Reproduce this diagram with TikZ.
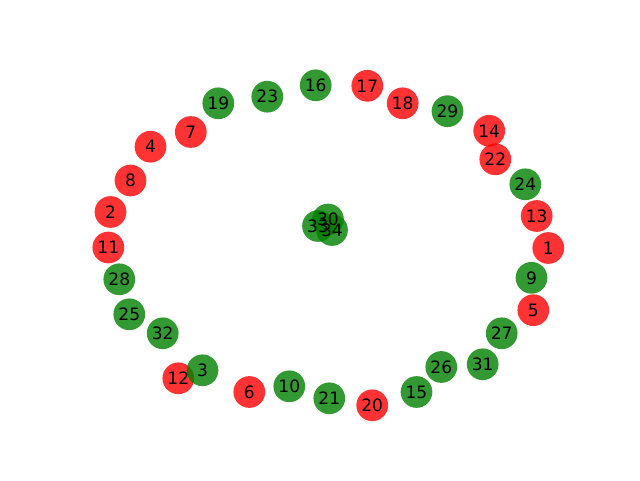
\documentclass[tikz,border=0pt]{standalone}
\usepackage{fontspec}
\setmainfont{DejaVu Sans}
\begin{document}
\begin{tikzpicture}[x=0.75pt,y=0.75pt,
  vtx/.style={circle,minimum size=23.8pt,inner sep=0pt,draw=none,fill opacity=0.8},
  rn/.style={vtx,fill=red},
  gn/.style={vtx,fill={rgb,255:red,0;green,128;blue,0}},
  lbl/.style={font=\fontsize{12.8pt}{14pt}\selectfont,inner sep=0pt,text=black}]
\useasboundingbox (0,0) rectangle (640,480);
% red nodes
\foreach \n/\x/\y in {1/548.3/248,2/110.5/212,4/150.5/146.7,5/533.3/310.2,6/249.3/392,7/190.8/132,8/130.5/180.5,11/108.3/247.5,12/178.3/378.3,13/536.7/216,14/489.2/130.8,17/367.3/85.8,18/402.7/103.3,20/372.2/405.3,22/495.3/159.3}
  \node[rn] (n\n) at (\x,480-\y) {};
% green nodes
\foreach \n/\x/\y in {3/202.5/370.3,9/531.5/277.8,10/289.3/386.3,15/416.5/392,16/315.7/85.3,19/218.3/103.3,21/329.3/398.3,23/267.3/96.7,24/525.3/184.3,25/129.3/314.3,26/441.3/367,27/501.7/333.3,28/119.3/279.3,29/447.5/111.2,31/482.7/364.3,32/162.7/333.3,30/328/219.5,33/318/226,34/332/230}
  \node[gn] (n\n) at (\x,480-\y) {};
% labels
\foreach \n in {1,2,...,34}
  \node[lbl] (l\n) at (n\n) {\n};
\end{tikzpicture}
\end{document}
